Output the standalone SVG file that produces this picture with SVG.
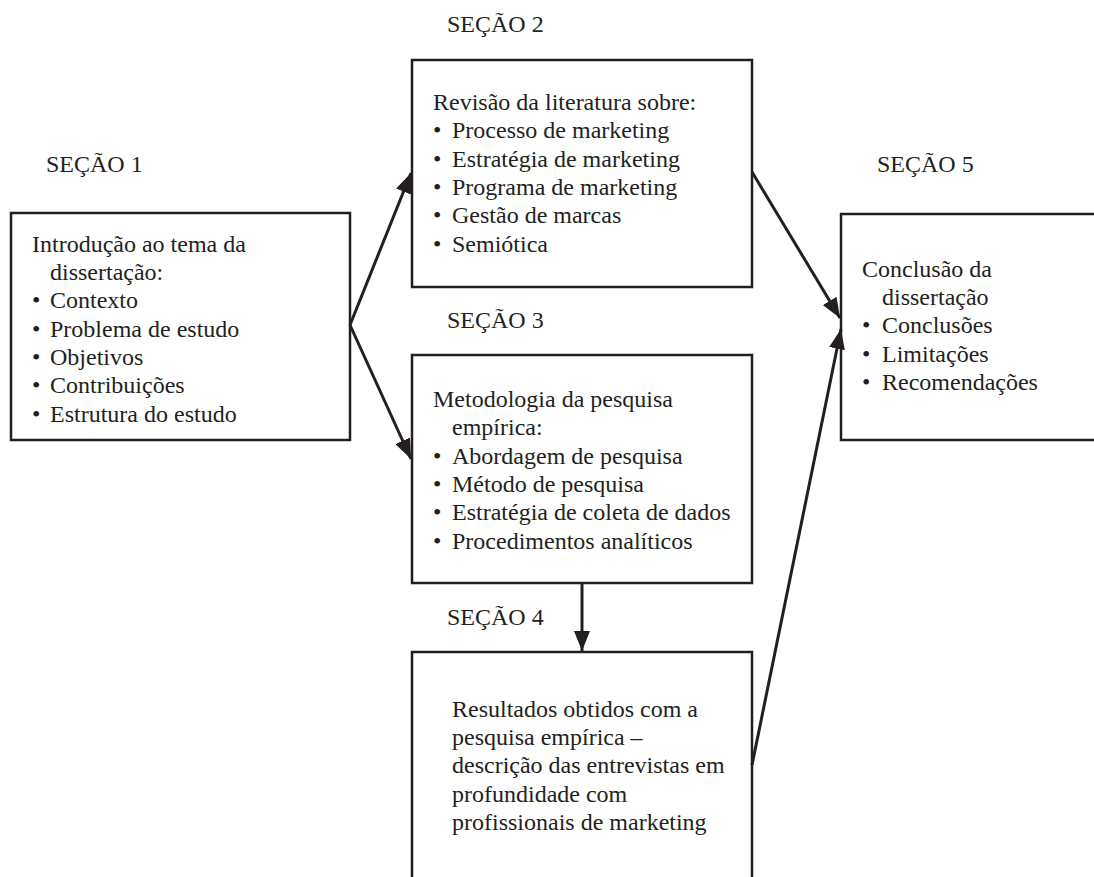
<svg xmlns="http://www.w3.org/2000/svg" width="1094" height="877" viewBox="0 0 1094 877">
  <style>
    text { font-family: "Liberation Serif", "Times New Roman", serif; font-size: 24px; fill: #231f20; }
    .box { fill: none; stroke: #231f20; stroke-width: 2.5; }
    .link { fill: none; stroke: #231f20; stroke-width: 3; }
  </style>
  <defs>
    <marker id="head" viewBox="0 0 20 16" refX="20" refY="8" markerWidth="20" markerHeight="16" markerUnits="userSpaceOnUse" orient="auto">
      <path d="M0,0 L20,8 L0,16 Z" fill="#231f20"/>
    </marker>
  </defs>
  <rect width="1094" height="877" fill="#ffffff"/>

  <!-- section headings -->
  <g id="labels">
    <text x="46" y="172">SEÇÃO 1</text>
    <text x="447" y="32">SEÇÃO 2</text>
    <text x="447" y="328">SEÇÃO 3</text>
    <text x="447" y="625">SEÇÃO 4</text>
    <text x="877" y="172">SEÇÃO 5</text>
  </g>

  <!-- section 1: introduction -->
  <g id="secao1">
    <rect class="box" x="11" y="213" width="339" height="227"/>
    <text x="32" y="252">Introdução ao tema da</text>
    <text x="50" y="280">dissertação:</text>
    <text x="32" y="308">•</text><text x="50" y="308">Contexto</text>
    <text x="32" y="337">•</text><text x="50" y="337">Problema de estudo</text>
    <text x="32" y="365">•</text><text x="50" y="365">Objetivos</text>
    <text x="32" y="393">•</text><text x="50" y="393">Contribuições</text>
    <text x="32" y="422">•</text><text x="50" y="422">Estrutura do estudo</text>
  </g>

  <!-- section 2: literature review -->
  <g id="secao2">
    <rect class="box" x="412" y="60" width="340" height="227"/>
    <text x="433" y="110">Revisão da literatura sobre:</text>
    <text x="433" y="138">•</text><text x="452" y="138">Processo de marketing</text>
    <text x="433" y="167">•</text><text x="452" y="167">Estratégia de marketing</text>
    <text x="433" y="195">•</text><text x="452" y="195">Programa de marketing</text>
    <text x="433" y="223">•</text><text x="452" y="223">Gestão de marcas</text>
    <text x="433" y="252">•</text><text x="452" y="252">Semiótica</text>
  </g>

  <!-- section 3: methodology -->
  <g id="secao3">
    <rect class="box" x="412" y="355" width="340" height="228"/>
    <text x="433" y="407">Metodologia da pesquisa</text>
    <text x="452" y="435">empírica:</text>
    <text x="433" y="464">•</text><text x="452" y="464">Abordagem de pesquisa</text>
    <text x="433" y="492">•</text><text x="452" y="492">Método de pesquisa</text>
    <text x="433" y="520">•</text><text x="452" y="520">Estratégia de coleta de dados</text>
    <text x="433" y="549">•</text><text x="452" y="549">Procedimentos analíticos</text>
  </g>

  <!-- section 4: results (box runs off the bottom edge) -->
  <g id="secao4">
    <rect class="box" x="412" y="652" width="340" height="240"/>
    <text x="452" y="717">Resultados obtidos com a</text>
    <text x="452" y="745">pesquisa empírica –</text>
    <text x="452" y="773">descrição das entrevistas em</text>
    <text x="452" y="802">profundidade com</text>
    <text x="452" y="830">profissionais de marketing</text>
  </g>

  <!-- section 5: conclusion (box runs off the right edge) -->
  <g id="secao5">
    <rect class="box" x="841" y="214" width="260" height="226"/>
    <text x="862" y="277">Conclusão da</text>
    <text x="882" y="305">dissertação</text>
    <text x="862" y="333">•</text><text x="882" y="333">Conclusões</text>
    <text x="862" y="362">•</text><text x="882" y="362">Limitações</text>
    <text x="862" y="390">•</text><text x="882" y="390">Recomendações</text>
  </g>

  <!-- connectors -->
  <g id="connectors">
    <line class="link" x1="350" y1="325" x2="411" y2="173" marker-end="url(#head)"/>
    <line class="link" x1="350" y1="325" x2="411" y2="459" marker-end="url(#head)"/>
    <line class="link" x1="752" y1="172" x2="840" y2="318" marker-end="url(#head)"/>
    <line class="link" x1="752" y1="765" x2="841" y2="329" marker-end="url(#head)"/>
    <line class="link" x1="582" y1="583" x2="582" y2="651" marker-end="url(#head)"/>
  </g>
</svg>
